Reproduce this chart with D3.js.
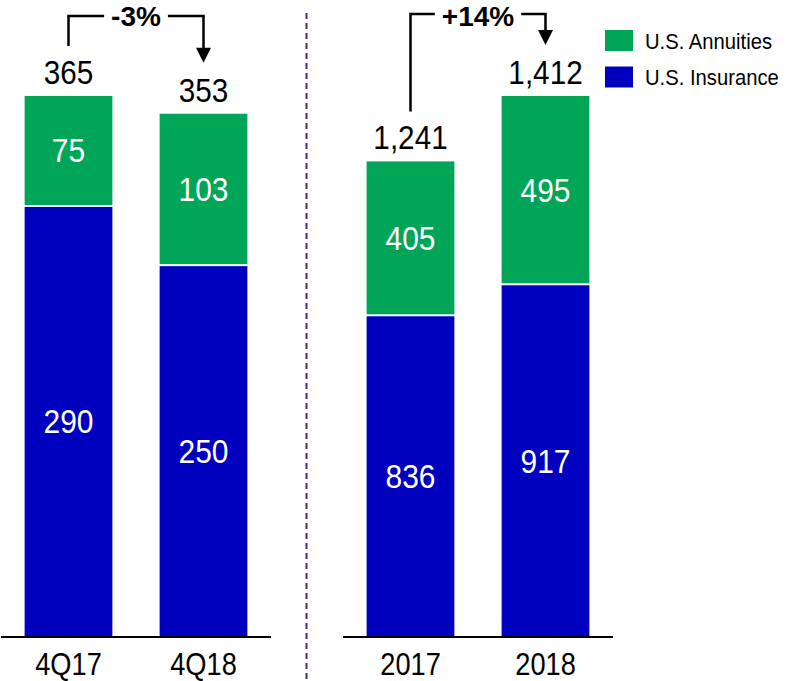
<!DOCTYPE html>
<html>
<head>
<meta charset="utf-8">
<script src="https://cdn.jsdelivr.net/npm/d3@7/dist/d3.min.js"></script>
<style>
  html, body { margin: 0; padding: 0; background: #ffffff; }
  svg { display: block; }
  .num { font-family: "Liberation Sans", Arial, sans-serif; }
  .pct { font-family: "Liberation Sans", Arial, sans-serif; font-weight: bold; }
</style>
</head>
<body>
<svg id="chart" width="788" height="681"></svg>
<script>
// Quarterly panel
const quarterCats = ["4Q17", "4Q18"];
const quarterAnnuities = [75, 103];
const quarterInsurance = [290, 250];
const quarterTotals = [365, 353];

// Full-year panel
const yearCats = ["2017", "2018"];
const yearAnnuities = [405, 495];
const yearInsurance = [836, 917];
const yearTotals = [1241, 1412];

// Period-over-period change labels
const changeLabels = ["-3%", "+14%"];

// Series (legend order)
const seriesNames = ["U.S. Annuities", "U.S. Insurance"];
const seriesColors = ["#00A557", "#0000BE"];

const svg = d3.select("#chart");
const baseY = 636, topY = 96;

// Text drawn with a slight horizontal condensing
function condensed(sel, sx) {
  return sel.attr("transform", function () {
    const px = +this.getAttribute("data-x"), py = +this.getAttribute("data-y");
    return `translate(${px},${py}) scale(${sx},1)`;
  });
}

function drawPanel(cats, annuities, insurance, totals, xRange, changeLabel, bracketY) {
  const x = d3.scaleBand().domain(cats).range(xRange).paddingInner(0.35).paddingOuter(0.175);
  const y = d3.scaleLinear().domain([0, d3.max(totals)]).range([baseY, topY]);
  const g = svg.append("g");
  const cx = c => x(c) + x.bandwidth() / 2;

  const rows = cats.map((c, i) => ({ cat: c, ins: insurance[i], ann: annuities[i], total: totals[i] }));

  // Insurance segment (bottom)
  g.selectAll("rect.ins").data(rows).join("rect")
    .attr("class", "ins")
    .attr("x", d => x(d.cat)).attr("width", x.bandwidth())
    .attr("y", d => y(d.ins)).attr("height", d => y(0) - y(d.ins))
    .attr("fill", seriesColors[1]);

  // Annuities segment (top)
  g.selectAll("rect.ann").data(rows).join("rect")
    .attr("class", "ann")
    .attr("x", d => x(d.cat)).attr("width", x.bandwidth())
    .attr("y", d => y(d.ins + d.ann)).attr("height", d => y(d.ins) - y(d.ins + d.ann) - 2)
    .attr("fill", seriesColors[0]);

  // Segment values
  g.selectAll("text.insv").data(rows).join("text")
    .attr("class", "num insv")
    .attr("data-x", d => cx(d.cat))
    .attr("data-y", d => (y(0) + y(d.ins)) / 2 + 12)
    .attr("text-anchor", "middle").attr("font-size", 34).attr("fill", "#fff")
    .text(d => d.ins)
    .call(condensed, 0.88);
  g.selectAll("text.annv").data(rows).join("text")
    .attr("class", "num annv")
    .attr("data-x", d => cx(d.cat))
    .attr("data-y", d => (y(d.ins) + y(d.ins + d.ann)) / 2 + 11)
    .attr("text-anchor", "middle").attr("font-size", 34).attr("fill", "#fff")
    .text(d => d.ann)
    .call(condensed, 0.88);

  // Totals above bars
  g.selectAll("text.tot").data(rows).join("text")
    .attr("class", "num tot")
    .attr("data-x", d => cx(d.cat))
    .attr("data-y", d => y(d.total) - 12)
    .attr("text-anchor", "middle").attr("font-size", 33).attr("fill", "#000")
    .text(d => d3.format(",")(d.total))
    .call(condensed, 0.9);

  // Baseline
  g.append("line")
    .attr("x1", xRange[0]).attr("x2", xRange[1])
    .attr("y1", baseY + 1).attr("y2", baseY + 1)
    .attr("stroke", "#000").attr("stroke-width", 2);

  // Category labels
  g.selectAll("text.cat").data(cats).join("text")
    .attr("class", "num cat")
    .attr("data-x", d => cx(d))
    .attr("data-y", 675)
    .attr("text-anchor", "middle").attr("font-size", 32).attr("fill", "#000")
    .text(d => d)
    .call(condensed, 0.85);

  // Change bracket with arrow
  const x0 = cx(cats[0]);
  const x1 = cx(cats[1]);
  const startY = y(totals[0]) - 50;
  const tipY = y(totals[1]) - 51;
  const mid = (x0 + x1) / 2;
  const pct = g.append("text")
    .attr("class", "pct")
    .attr("x", mid).attr("y", 26)
    .attr("text-anchor", "middle").attr("font-size", 28).attr("fill", "#000")
    .text(changeLabel);
  const w = pct.node().getComputedTextLength();
  const gap = 7;
  g.append("path")
    .attr("d", `M${x0},${startY}V${bracketY}H${mid - w / 2 - gap}`)
    .attr("fill", "none").attr("stroke", "#000").attr("stroke-width", 2.5);
  g.append("path")
    .attr("d", `M${mid + w / 2 + gap},${bracketY}H${x1}V${tipY - 14}`)
    .attr("fill", "none").attr("stroke", "#000").attr("stroke-width", 2.5);
  g.append("path")
    .attr("d", `M${x1 - 7.5},${tipY - 15}L${x1 + 7.5},${tipY - 15}L${x1},${tipY}Z`)
    .attr("fill", "#000");
}

drawPanel(quarterCats, quarterAnnuities, quarterInsurance, quarterTotals, [1, 271], changeLabels[0], 16);
drawPanel(yearCats, yearAnnuities, yearInsurance, yearTotals, [343, 613], changeLabels[1], 14);

// Divider between panels
svg.append("line")
  .attr("x1", 306.5).attr("x2", 306.5).attr("y1", 13).attr("y2", 681)
  .attr("stroke", "#4B2A72").attr("stroke-width", 2).attr("stroke-dasharray", "6,4");

// Legend
const legend = svg.append("g").attr("transform", "translate(605,30)");
seriesNames.forEach((name, i) => {
  const row = legend.append("g").attr("transform", `translate(0,${i * 36.5})`);
  row.append("rect").attr("width", 28).attr("height", 21).attr("fill", seriesColors[i]);
  row.append("text").attr("class", "num")
    .attr("data-x", 40).attr("data-y", 18.5)
    .attr("font-size", 22).attr("fill", "#000")
    .text(name)
    .call(condensed, 0.92);
});
</script>
</body>
</html>
